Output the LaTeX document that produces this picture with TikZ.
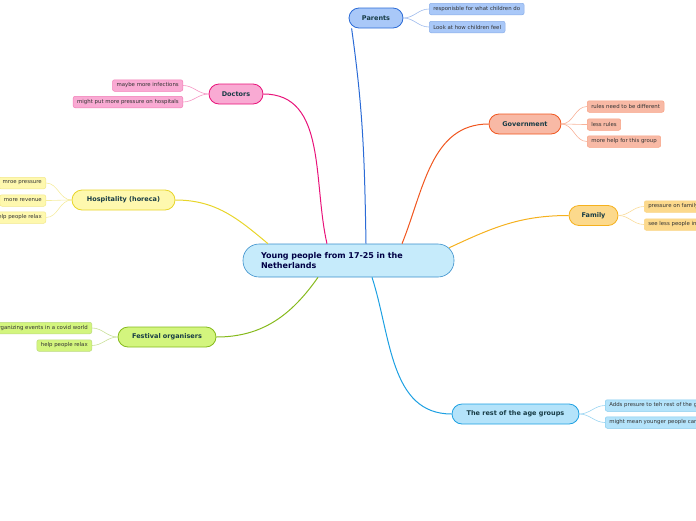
\documentclass[tikz,border=0pt]{standalone}
\usepackage{fontspec}
\setmainfont{DejaVu Sans}
\usetikzlibrary{calc}
\definecolor{textdark}{HTML}{173B45}
\definecolor{centerfill}{HTML}{C6EBFB}
\definecolor{centerline}{HTML}{3A8FCB}
\definecolor{parfill}{HTML}{A9C8F8}
\definecolor{parline}{HTML}{2B6BD6}
\definecolor{docfill}{HTML}{F9AAD3}
\definecolor{docline}{HTML}{E8137A}
\definecolor{hosfill}{HTML}{FEF8AE}
\definecolor{hosline}{HTML}{E8D52A}
\definecolor{fesfill}{HTML}{D3F57E}
\definecolor{fesline}{HTML}{86BA1C}
\definecolor{govfill}{HTML}{F8B9A5}
\definecolor{govline}{HTML}{F0561F}
\definecolor{famfill}{HTML}{FCD98C}
\definecolor{famline}{HTML}{F5B11E}
\definecolor{resfill}{HTML}{B4E3FA}
\definecolor{resline}{HTML}{1DA0E2}
\tikzset{
  topic/.style={draw=#1line,fill=#1fill,rounded corners=10pt,line width=0.8pt,
    minimum height=20pt,inner xsep=12pt,inner ysep=0pt,
    font=\fontsize{6.5}{7}\selectfont\bfseries,text=textdark},
  leaf/.style={draw=#1line!55,fill=#1fill,rounded corners=2pt,line width=0.5pt,
    minimum height=11.5pt,inner xsep=4pt,inner ysep=0pt,
    font=\fontsize{5.4}{6}\selectfont,text=black!80},
  branch/.style={draw=#1line,line width=1pt},
  twig/.style={draw=#1line!45,line width=0.6pt},
}
\begin{document}
\begin{tikzpicture}[x=1pt,y=-1pt]
\useasboundingbox (0,0) rectangle (696,520);
\clip (0,0) rectangle (696,520);

% central topic
\node[draw=centerline,fill=centerfill,rounded corners=16pt,line width=0.6pt,
  minimum height=33pt,text width=175pt,inner xsep=18pt,inner ysep=0pt,align=left,
  font=\fontsize{8}{9.5}\selectfont\bfseries,text=black!40!blue!45!black] (yp) at (348.5,260.5)
  {Young people from 17-25 in the\\Netherlands};

% main topics
\node[topic=par,minimum width=54pt] (pa) at (376,18) {Parents};
\node[topic=doc,minimum width=54pt] (doc) at (236,94) {Doctors};
\node[topic=hos,minimum width=103pt] (hos) at (123.5,200) {Hospitality (horeca)};
\node[topic=fes,minimum width=98pt] (fes) at (167,337) {Festival organisers};
\node[topic=gov,minimum width=72pt] (gov) at (525,124) {Government};
\node[topic=fam,minimum width=49pt] (fam) at (593.5,215.5) {Family};
\node[topic=res,minimum width=127pt] (res) at (515.5,414) {The rest of the age groups};

% sub topics
\node[leaf=par,anchor=west] (pa1) at (429,9) {responisble for what children do};
\node[leaf=par,anchor=west] (pa2) at (429,27) {Look at how children feel};

\node[leaf=doc,anchor=east] (doc1) at (183,85.5) {maybe more infections};
\node[leaf=doc,anchor=east] (doc2) at (183,102) {might put more pressure on hospitals};

\node[leaf=hos,anchor=east] (hos1) at (46,183) {mroe pressure};
\node[leaf=hos,anchor=east] (hos2) at (46,200.5) {more revenue};
\node[leaf=hos,anchor=east] (hos3) at (46,217.5) {help people relax};

\node[leaf=fes,anchor=east] (fes1) at (92,328) {organizing events in a covid world};
\node[leaf=fes,anchor=east] (fes2) at (92,345.5) {help people relax};

\node[leaf=gov,anchor=west] (gov1) at (587,106.5) {rules need to be different};
\node[leaf=gov,anchor=west] (gov2) at (587,124.5) {less rules};
\node[leaf=gov,anchor=west] (gov3) at (587,141.5) {more help for this group};

\node[leaf=fam,anchor=west] (fam1) at (644,206.5) {pressure on family};
\node[leaf=fam,anchor=west] (fam2) at (644,224.5) {see less people in real life};

\node[leaf=res,anchor=west] (res1) at (605,405.5) {Adds presure to teh rest of the group};
\node[leaf=res,anchor=west] (res2) at (605,422.5) {might mean younger people can get sick};

% branches
\draw[branch=par] ([xshift=17.5pt]yp.north) to[out=91,in=-82] ([xshift=3pt]pa.south west);
\draw[branch=doc] ([xshift=-21.5pt]yp.north) to[out=103,in=0] (doc.east);
\draw[branch=hos] ([xshift=-80.5pt]yp.north) to[out=140,in=0] (hos.east);
\draw[branch=fes] ([xshift=-30.5pt]yp.south) to[out=-125,in=0] (fes.east);
\draw[branch=gov] ([xshift=53.5pt]yp.north) to[out=68,in=180] (gov.west);
\draw[branch=fam] ([xshift=-5pt,yshift=-4pt]yp.north east) to[out=25,in=180] (fam.west);
\draw[branch=res] ([xshift=23.5pt]yp.south) to[out=-72,in=180] (res.west);

% twigs
\foreach \c in {pa1,pa2} \draw[twig=par] (pa.east) to[out=0,in=180] (\c.west);
\foreach \c in {doc1,doc2} \draw[twig=doc] (doc.west) to[out=180,in=0] (\c.east);
\foreach \c in {hos1,hos2,hos3} \draw[twig=hos] (hos.west) to[out=180,in=0] (\c.east);
\foreach \c in {fes1,fes2} \draw[twig=fes] (fes.west) to[out=180,in=0] (\c.east);
\foreach \c in {gov1,gov2,gov3} \draw[twig=gov] (gov.east) to[out=0,in=180] (\c.west);
\foreach \c in {fam1,fam2} \draw[twig=fam] (fam.east) to[out=0,in=180] (\c.west);
\foreach \c in {res1,res2} \draw[twig=res] (res.east) to[out=0,in=180] (\c.west);

\end{tikzpicture}
\end{document}
